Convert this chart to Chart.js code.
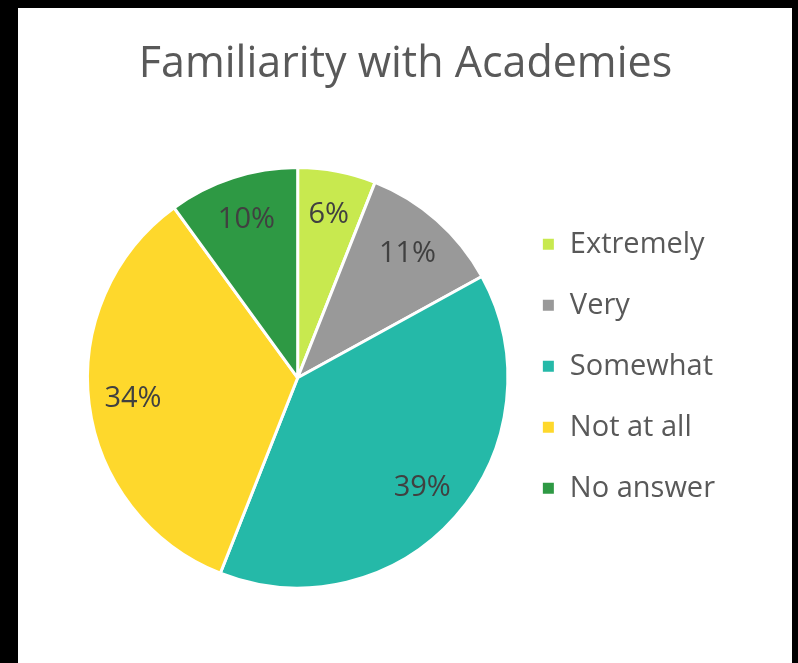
<!DOCTYPE html>
<html>
<head>
<meta charset="utf-8">
<script src="https://cdn.jsdelivr.net/npm/chart.js@4"></script>
<style>
  html, body { margin: 0; padding: 0; background: #000; }
  #wrap { position: absolute; left: 18px; top: 8px; width: 774px; height: 655px; background: #fff; }
</style>
</head>
<body>
<div id="wrap"><canvas id="familiarity" width="774" height="655"></canvas></div>
<script>
const categories = ['Extremely', 'Very', 'Somewhat', 'Not at all', 'No answer'];
const shares = [6, 11, 39, 34, 10];
const sliceColors = ['#C8E94F', '#999999', '#25B9A8', '#FED82C', '#2E9944'];

// percentage text inside each slice
const sliceLabels = {
  id: 'sliceLabels',
  afterDatasetsDraw(chart) {
    const ctx = chart.ctx;
    const meta = chart.getDatasetMeta(0);
    ctx.save();
    ctx.font = '29px "Open Sans"';
    ctx.fillStyle = '#404040';
    ctx.textAlign = 'center';
    ctx.textBaseline = 'middle';
    meta.data.forEach((arc, i) => {
      const p = arc.getProps(['x', 'y', 'startAngle', 'endAngle', 'outerRadius'], true);
      const mid = (p.startAngle + p.endAngle) / 2;
      const r = p.outerRadius * 0.79;
      ctx.fillText(shares[i] + '%', p.x + Math.cos(mid) * r, p.y + Math.sin(mid) * r);
    });
    ctx.restore();
  }
};

new Chart(document.querySelector('#familiarity'), {
  type: 'pie',
  data: {
    labels: categories,
    datasets: [{
      data: shares,
      backgroundColor: sliceColors,
      borderColor: '#ffffff',
      borderWidth: 3
    }]
  },
  options: {
    responsive: false,
    animation: false,
    layout: { padding: { left: 68, right: 67, top: 0, bottom: 73 } },
    plugins: {
      title: {
        display: true,
        text: 'Familiarity with Academies',
        color: '#595959',
        font: { family: 'Open Sans', size: 43, weight: 'normal' },
        padding: { top: 31, bottom: 75 }
      },
      legend: {
        position: 'right',
        align: 'start',
        fullSize: false,
        title: { display: true, text: ' ', font: { size: 1 }, padding: { top: 0, bottom: 31 } },
        labels: {
          boxWidth: 14,
          boxHeight: 14,
          padding: 32,
          color: '#595959',
          font: { family: 'Open Sans', size: 29 }
        }
      },
      tooltip: { enabled: false }
    }
  },
  plugins: [sliceLabels]
});
</script>
</body>
</html>
